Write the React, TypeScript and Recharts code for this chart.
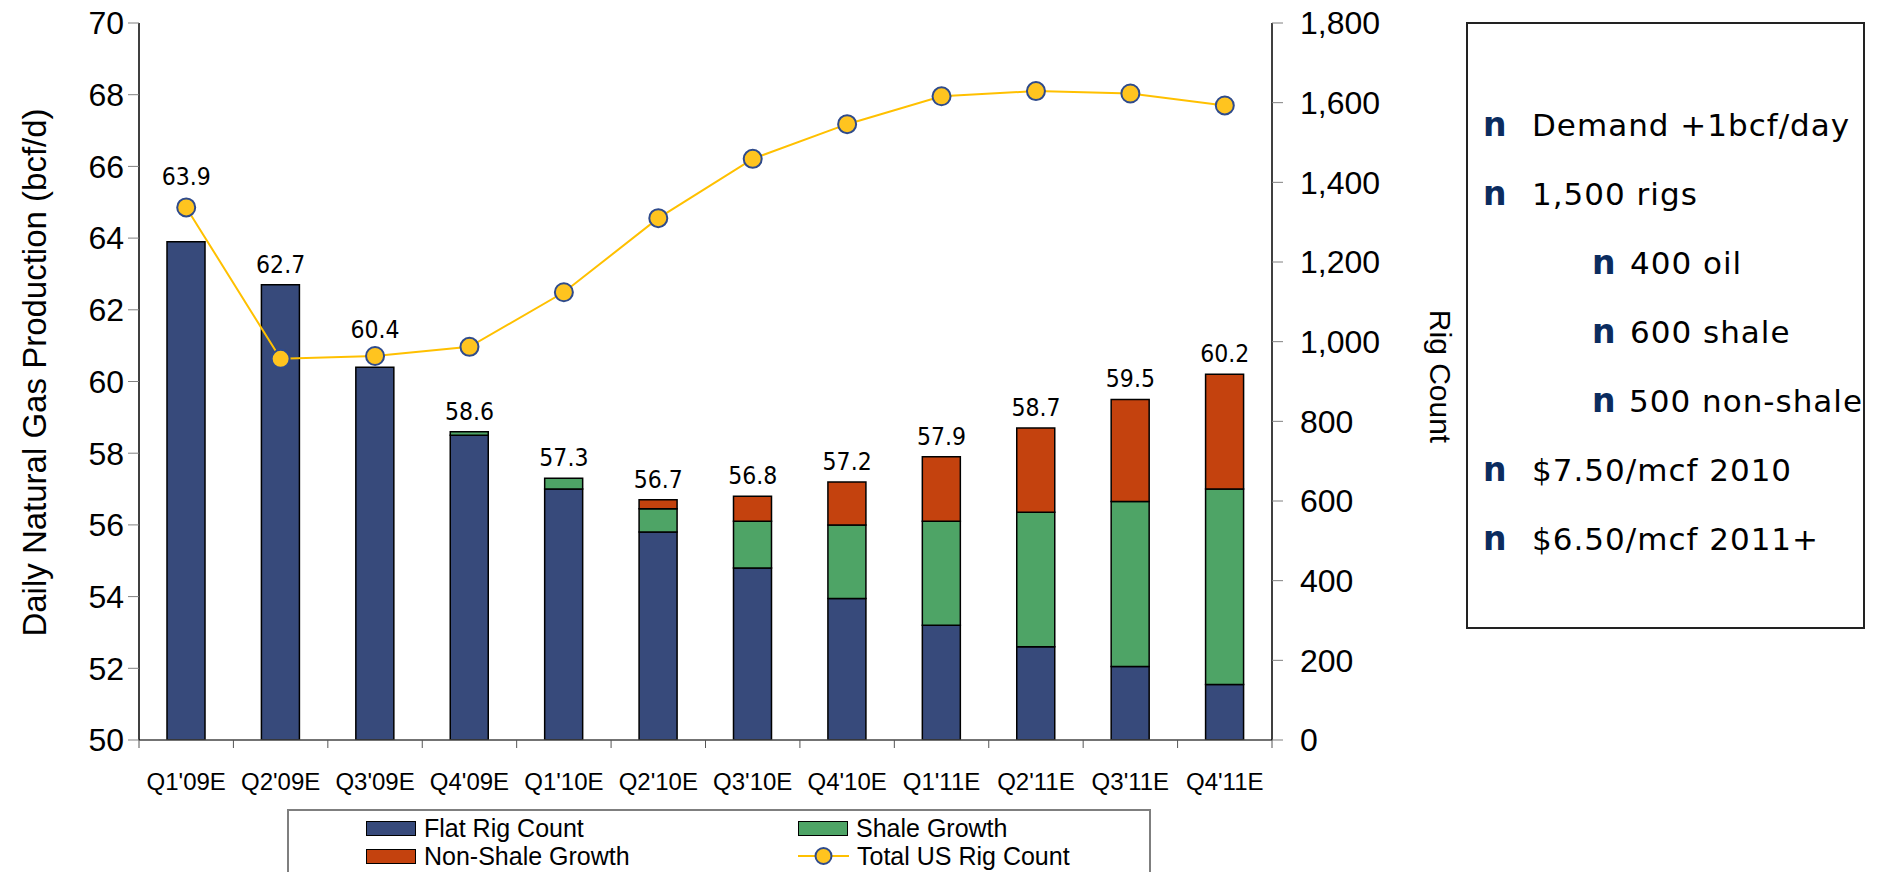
import React from 'react';
import { ComposedChart, Bar, Line, XAxis, YAxis, Legend, LabelList, Label } from 'recharts';

const quarters = ["Q1'09E", "Q2'09E", "Q3'09E", "Q4'09E", "Q1'10E", "Q2'10E", "Q3'10E", "Q4'10E", "Q1'11E", "Q2'11E", "Q3'11E", "Q4'11E"];
const flatRigCount = [63.9, 62.7, 60.4, 58.5, 57.0, 55.8, 54.8, 53.95, 53.2, 52.6, 52.05, 51.55];
const shaleGrowth = [0, 0, 0, 0.1, 0.3, 0.65, 1.3, 2.05, 2.9, 3.75, 4.6, 5.45];
const nonShaleGrowth = [0, 0, 0, 0, 0, 0.25, 0.7, 1.2, 1.8, 2.35, 2.85, 3.2];
const totalProduction = [63.9, 62.7, 60.4, 58.6, 57.3, 56.7, 56.8, 57.2, 57.9, 58.7, 59.5, 60.2];
const totalRigCount = [1337, 957, 964, 987, 1124, 1310, 1459, 1546, 1616, 1629, 1623, 1593];

const productionTicks = [50, 52, 54, 56, 58, 60, 62, 64, 66, 68, 70];
const rigTicks = [0, 200, 400, 600, 800, 1000, 1200, 1400, 1600, 1800];
const legendOrder = ['Flat Rig Count', 'Shale Growth', 'Non-Shale Growth', 'Total US Rig Count'];

const notes = [
  { text: 'Demand +1bcf/day', indent: false },
  { text: '1,500 rigs', indent: false },
  { text: '400 oil', indent: true },
  { text: '600 shale', indent: true },
  { text: '500 non-shale', indent: true },
  { text: '$7.50/mcf 2010', indent: false },
  { text: '$6.50/mcf 2011+', indent: false },
];

const data = quarters.map((quarter, i) => ({
  quarter,
  flat: flatRigCount[i],
  shale: shaleGrowth[i],
  nonShale: nonShaleGrowth[i],
  total: totalProduction[i],
  rigs: totalRigCount[i],
}));

const SANS = '"Liberation Sans", Arial, sans-serif';
const WIDE = '"DejaVu Sans", Verdana, sans-serif';
const LABEL_FONT = '"DejaVu Sans Condensed", "DejaVu Sans", sans-serif';
const X_TICK = 8;
// a few totals are pushed up so they clear the rig count markers
const labelLift: Record<number, number> = { 0: 45, 2: 17 };

// tick marks sit on the category edges, labels in the middle
const QuarterTick = (props: any) => {
  const { x, y, payload, index, visibleTicksCount, width } = props;
  const half = payload.offset > 2 ? payload.offset : Number(width) / visibleTicksCount / 2;
  return (
    <g>
      <line x1={x - half} x2={x - half} y1={y - X_TICK} y2={y} stroke="#555" />
      {index === visibleTicksCount - 1 && (
        <line x1={x + half} x2={x + half} y1={y - X_TICK} y2={y} stroke="#555" />
      )}
      <text x={x} y={y + 42} textAnchor="middle" fontFamily={SANS} fontSize={24} fill="#000">
        {payload.value}
      </text>
    </g>
  );
};

const TotalLabel = (props: any) => {
  const { x, y, value, index } = props;
  return (
    <text x={x} y={y - 12 - (labelLift[index] || 0)} textAnchor="middle" fontFamily={LABEL_FONT} fontSize={24.5} fill="#000">
      {Number(value).toFixed(1)}
    </text>
  );
};

const LeftTitle = ({ viewBox }: any) => {
  const cx = viewBox.x + 34;
  const cy = viewBox.y + viewBox.height / 2 - 9;
  return (
    <text x={cx} y={cy} transform={`rotate(-90, ${cx}, ${cy})`} textAnchor="middle" dominantBaseline="central" fontFamily={SANS} fontSize={33} fill="#000">
      Daily Natural Gas Production (bcf/d)
    </text>
  );
};

const RightTitle = ({ viewBox }: any) => {
  const cx = viewBox.x + 168;
  const cy = viewBox.y + viewBox.height / 2 - 5;
  return (
    <text x={cx} y={cy} transform={`rotate(90, ${cx}, ${cy})`} textAnchor="middle" dominantBaseline="central" fontFamily={SANS} fontSize={30} fill="#000">
      Rig Count
    </text>
  );
};

const LegendBox = ({ payload }: any) => {
  const items = (payload || [])
    .filter((p: any) => legendOrder.includes(p.value))
    .sort((a: any, b: any) => legendOrder.indexOf(a.value) - legendOrder.indexOf(b.value));
  return (
    <div
      style={{
        display: 'grid',
        gridTemplateColumns: '432px 350px',
        gridAutoRows: '28px',
        paddingLeft: 77,
        paddingTop: 3,
        fontFamily: SANS,
        fontSize: 25,
        color: '#000',
      }}
    >
      {items.map((item: any) => (
        <div key={item.value} style={{ display: 'flex', alignItems: 'center' }}>
          {item.type === 'line' ? (
            <svg width={51} height={20} style={{ marginRight: 8 }}>
              <line x1={0} x2={51} y1={10} y2={10} stroke="#FFC000" strokeWidth={2} />
              <circle cx={25.5} cy={10} r={8} fill="#FFC41F" stroke="#2F4B8C" strokeWidth={2} />
            </svg>
          ) : (
            <div style={{ width: 48, height: 13, background: item.color, border: '1.5px solid #000', marginRight: 8 }} />
          )}
          <span style={{ lineHeight: '28px', whiteSpace: 'nowrap' }}>{item.value}</span>
        </div>
      ))}
    </div>
  );
};

export default function App() {
  return (
    <div style={{ position: 'relative', width: 1903, height: 872, overflow: 'hidden', background: '#fff' }}>
      <style>{'body{margin:0;}'}</style>
      <ComposedChart width={1903} height={872} data={data} margin={{ top: 23, right: 431, bottom: 72, left: 0 }}>
        <XAxis
          dataKey="quarter"
          height={60}
          tickSize={X_TICK}
          tickMargin={0}
          tickLine={false}
          axisLine={{ stroke: '#444', strokeWidth: 1.5 }}
          tick={<QuarterTick />}
          interval={0}
        />
        <YAxis
          yAxisId="left"
          width={139}
          domain={[50, 70]}
          ticks={productionTicks}
          allowDataOverflow
          tickSize={11}
          tickMargin={4}
          tickLine={{ stroke: '#808080' }}
          axisLine={{ stroke: '#000', strokeWidth: 1.5 }}
          tick={{ fill: '#000', fontSize: 32, fontFamily: SANS }}
        >
          <Label content={<LeftTitle />} />
        </YAxis>
        <YAxis
          yAxisId="right"
          orientation="right"
          width={200}
          domain={[0, 1800]}
          ticks={rigTicks}
          allowDataOverflow
          tickSize={11}
          tickMargin={17}
          tickLine={{ stroke: '#808080' }}
          axisLine={{ stroke: '#000', strokeWidth: 1.5 }}
          tick={{ fill: '#000', fontSize: 32, fontFamily: SANS, textAnchor: 'start' }}
          tickFormatter={(v: number) => v.toLocaleString('en-US')}
        >
          <Label content={<RightTitle />} />
        </YAxis>
        <Legend
          layout="horizontal"
          verticalAlign="middle"
          align="center"
          content={<LegendBox />}
          wrapperStyle={{
            position: 'absolute',
            left: 287,
            top: 809,
            width: 864,
            height: 70,
            border: '2px solid #7f7f7f',
            background: '#fff',
            boxSizing: 'border-box',
          }}
        />
        <Bar yAxisId="left" dataKey="flat" name="Flat Rig Count" stackId="p" barSize={38} fill="#374A7B" stroke="#000" strokeWidth={1.5} isAnimationActive={false} />
        <Bar yAxisId="left" dataKey="shale" name="Shale Growth" stackId="p" barSize={38} fill="#4EA466" stroke="#000" strokeWidth={1.5} isAnimationActive={false} />
        <Bar yAxisId="left" dataKey="nonShale" name="Non-Shale Growth" stackId="p" barSize={38} fill="#C4420E" stroke="#000" strokeWidth={1.5} isAnimationActive={false} />
        {/* invisible series at the stack tops, only carries the total labels */}
        <Line
          yAxisId="left"
          dataKey="total"
          stroke="none"
          dot={false}
          activeDot={false}
          legendType="none"
          isAnimationActive={false}
        >
          <LabelList dataKey="total" content={<TotalLabel />} />
        </Line>
        <Line
          yAxisId="right"
          dataKey="rigs"
          name="Total US Rig Count"
          type="linear"
          stroke="#FFC000"
          strokeWidth={2}
          dot={{ r: 9, fill: '#FFC41F', stroke: '#2F4B8C', strokeWidth: 2 }}
          activeDot={false}
          isAnimationActive={false}
        />
      </ComposedChart>
      <div
        style={{
          position: 'absolute',
          left: 1466,
          top: 22,
          width: 399,
          height: 607,
          border: '2px solid #222',
          boxSizing: 'border-box',
          paddingTop: 66,
          fontFamily: WIDE,
          fontSize: 31,
          letterSpacing: 1,
          color: '#000',
          whiteSpace: 'nowrap',
        }}
      >
        {notes.map((n) => (
          <div key={n.text} style={{ display: 'flex', height: 69, alignItems: 'center', paddingLeft: n.indent ? 124 : 15 }}>
            <span style={{ fontWeight: 'bold', color: '#0B2C5F', width: n.indent ? 38 : 49, fontSize: 33 }}>n</span>
            <span>{n.text}</span>
          </div>
        ))}
      </div>
    </div>
  );
}
